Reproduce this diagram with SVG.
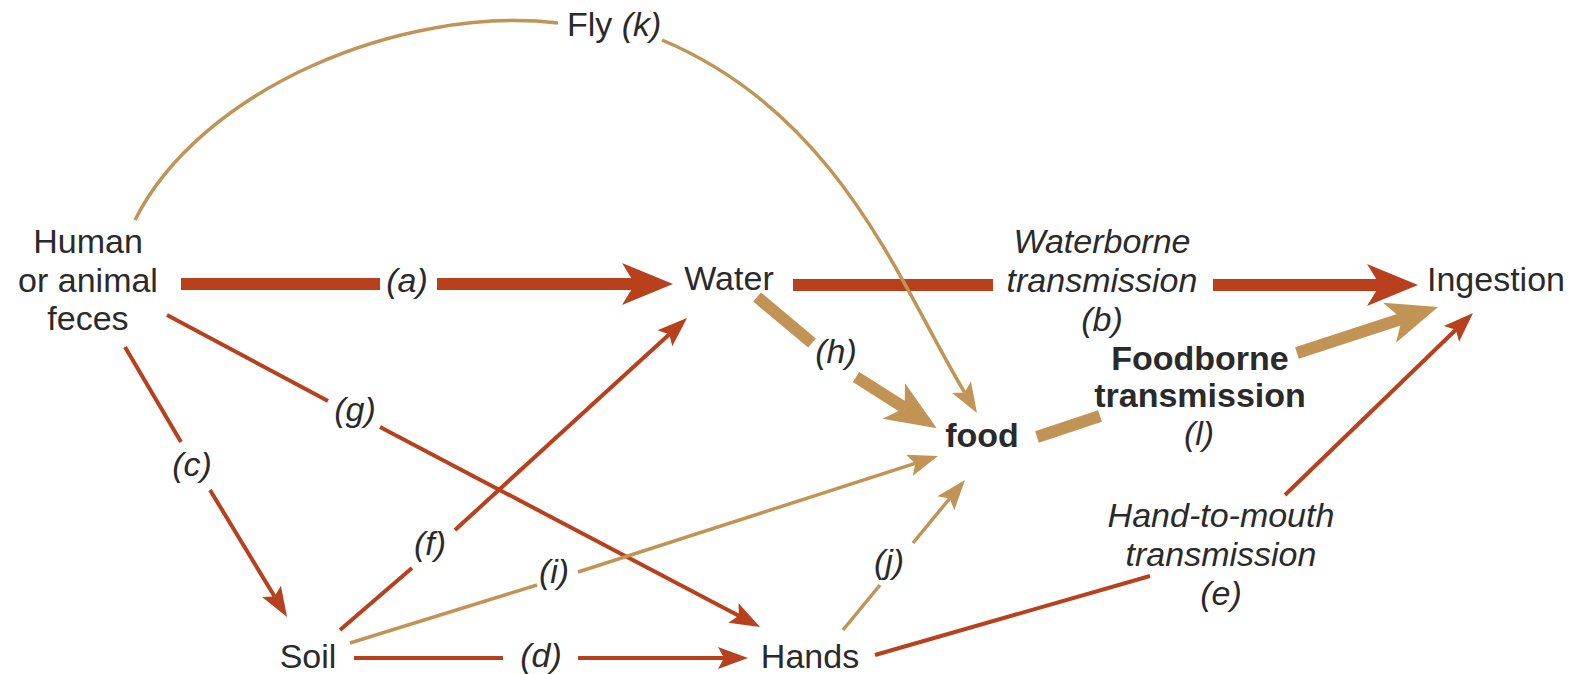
<svg xmlns="http://www.w3.org/2000/svg" width="1579" height="674" viewBox="0 0 1579 674">
<style>
text{font-family:"Liberation Sans",Arial,Helvetica,sans-serif;font-size:34px;fill:#2a2a2a;text-anchor:middle}
.it{font-style:italic}
.b{font-weight:bold}
.red{stroke:#B8401C;fill:none}
.tan{stroke:#C19455;fill:none}
.thick{stroke-width:12}
.thin{stroke-width:4}
.thinT{stroke-width:3.5}
</style>
<defs>
<marker id="thickR" markerUnits="userSpaceOnUse" viewBox="-14 -22 54 44" markerWidth="54" markerHeight="44" refX="0" refY="0" orient="auto"><path d="M38,0 L-13,-21 L0,0 L-13,21 Z" fill="#B8401C"/></marker>
<marker id="thickT" markerUnits="userSpaceOnUse" viewBox="-14 -22 54 44" markerWidth="54" markerHeight="44" refX="0" refY="0" orient="auto"><path d="M38,0 L-13,-21 L0,0 L-13,21 Z" fill="#C19455"/></marker>
<marker id="thinR" markerUnits="userSpaceOnUse" viewBox="-8 -12 34 24" markerWidth="34" markerHeight="24" refX="0" refY="0" orient="auto"><path d="M24,0 L-6,-11 L0,0 L-6,11 Z" fill="#B8401C"/></marker>
<marker id="thinT" markerUnits="userSpaceOnUse" viewBox="-8 -12 34 24" markerWidth="34" markerHeight="24" refX="0" refY="0" orient="auto"><path d="M24,0 L-6,-11 L0,0 L-6,11 Z" fill="#C19455"/></marker>
</defs>
<rect width="1579" height="674" fill="#ffffff"/>
<g id="connectors">
<path id="edge-a" class="red thick" d="M181,284 H380 M437,284 H635" marker-end="url(#thickR)"/>
<path id="edge-b" class="red thick" d="M793,285 H993 M1213,285 H1380" marker-end="url(#thickR)"/>
<path id="edge-h" class="tan thick" d="M757,297 L812,343 M856,377 L904.7,407.9" marker-end="url(#thickT)"/>
<path id="edge-l" class="tan thick" d="M1037,437 L1100,416 M1297,353 L1401.9,318.8" marker-end="url(#thickT)"/>
<path id="edge-c" class="red thin" d="M125,347 L181,442 M210,490 L274.6,596.5" marker-end="url(#thinR)"/>
<path id="edge-g" class="red thin" d="M167,315 L328,401 M380,427 L738.8,615.8" marker-end="url(#thinR)"/>
<path id="edge-f" class="red thin" d="M340,630 L412,568 M455,530 L669.3,334.2" marker-end="url(#thinR)"/>
<path id="edge-d" class="red thin" d="M354,658 H503 M578,658 H724" marker-end="url(#thinR)"/>
<path id="edge-e" class="red thin" d="M875,655 L1150,576 M1285,495 L1455.8,329.7" marker-end="url(#thinR)"/>
<path id="edge-i" class="tan thinT" d="M350,643 L537,585 M578,572 L915.2,463.4" marker-end="url(#thinT)"/>
<path id="edge-j" class="tan thinT" d="M843,630 L880,585 M913,543 L949.7,498.5" marker-end="url(#thinT)"/>
<path id="edge-k" class="tan thinT" d="M135,220 C200,90 400,5 558,23 M662,40 C840,115 900,285 964.6,392.4" marker-end="url(#thinT)"/>
</g>
<g id="edge-labels">
<text class="it" x="407" y="292">(a)</text>
<text class="it" x="1102" y="253">Waterborne</text>
<text class="it" x="1102" y="292">transmission</text>
<text class="it" x="1102" y="331">(b)</text>
<text class="it" x="192" y="476">(c)</text>
<text class="it" x="541" y="667">(d)</text>
<text class="it" x="1221" y="527">Hand-to-mouth</text>
<text class="it" x="1221" y="566">transmission</text>
<text class="it" x="1221" y="605">(e)</text>
<text class="it" x="430" y="555">(f)</text>
<text class="it" x="355" y="421">(g)</text>
<text class="it" x="836" y="363">(h)</text>
<text class="it" x="554" y="583">(i)</text>
<text class="it" x="889" y="573">(j)</text>
<text class="b" x="1200" y="370">Foodborne</text>
<text class="b" x="1200" y="407">transmission</text>
<text class="it" x="1199" y="445">(l)</text>
</g>
<g id="node-feces">
<text x="88" y="253">Human</text>
<text x="88" y="292">or animal</text>
<text x="88" y="330">feces</text>
</g>
<g id="node-fly">
<text x="567" y="36" style="text-anchor:start">Fly <tspan class="it">(k)</tspan></text>
</g>
<g id="node-water"><text x="729" y="290">Water</text></g>
<g id="node-ingestion"><text x="1496" y="291">Ingestion</text></g>
<g id="node-food"><text class="b" x="982" y="447">food</text></g>
<g id="node-soil"><text x="308" y="668">Soil</text></g>
<g id="node-hands"><text x="810" y="668">Hands</text></g>
</svg>
